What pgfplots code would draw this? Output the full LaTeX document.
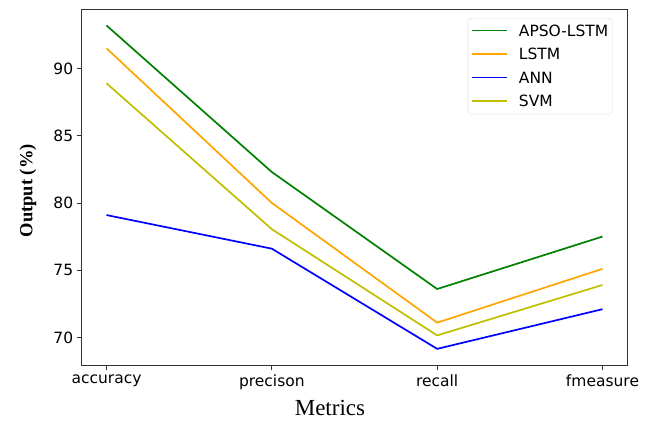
\documentclass[border=0pt]{standalone}
\usepackage{pgfplots}
\pgfplotsset{compat=1.18}
\usepackage{fontspec}
\setmainfont{DejaVu Sans}
\newfontfamily\timesfont{Liberation Serif}
\definecolor{colAPSO}{HTML}{008000}
\definecolor{colLSTM}{HTML}{FFA500}
\definecolor{colANN}{HTML}{0000FF}
\definecolor{colSVM}{HTML}{BFBF00}
\newcommand{\legline}[1]{\textcolor{#1}{\rule[\dimexpr0.36em-0.85pt\relax]{35pt}{1.7pt}}\hspace{12pt}}
\pgfplotstableread{
x apso lstm ann svm
0 93.2 91.5 79.1 88.9
1 82.3 80.0 76.6 78.05
2 73.6 71.1 69.15 70.15
3 77.5 75.1 72.1 73.9
}\datatable
\begin{document}
\begin{tikzpicture}
\begin{axis}[
  name=ax,
  at={(0,0)}, anchor=south west,
  scale only axis,
  width=545.6pt, height=355.7pt,
  xmin=-0.15, xmax=3.15,
  ymin=67.95, ymax=94.4,
  xtick={0,1,2,3},
  xticklabels={accuracy,precison,recall,fmeasure},
  ytick={70,75,80,85,90},
  tick label style={font=\fontsize{15.5}{18}\selectfont},
  /pgf/number format/assume math mode=true,
  tick align=outside,
  tickwidth=5pt,
  xtick pos=bottom, ytick pos=left,
  axis line style={line width=1pt, black!80},
  major tick style={line width=0.9pt, black!80},
  xticklabel style={yshift=-1pt},
  xlabel={Metrics},
  xlabel style={font=\timesfont\fontsize{23}{26}\selectfont, at={(axis description cs:0.455,-0.121)}, anchor=center},
  ylabel={\textbf{Output (\%)}},
  ylabel style={font=\timesfont\fontsize{18.5}{22}\selectfont, at={(axis description cs:-0.0984,0.49)}, anchor=center},
  legend style={at={(axis description cs:0.7075,0.9747)}, anchor=north west,
    draw=black!15, rounded corners=3pt, fill=white,
    font=\fontsize{15.5}{18}\selectfont, inner xsep=3pt, inner ysep=5pt,
    row sep=8.6pt, column sep=0pt, nodes={inner sep=1pt}},
  legend cell align=left,
]
\addplot[color=colAPSO, line width=1.7pt, forget plot] table[x=x,y=apso] {\datatable};
\addplot[color=colLSTM, line width=1.7pt, forget plot] table[x=x,y=lstm] {\datatable};
\addplot[color=colANN, line width=1.7pt, forget plot] table[x=x,y=ann] {\datatable};
\addplot[color=colSVM, line width=1.7pt, forget plot] table[x=x,y=svm] {\datatable};
\addlegendimage{empty legend}
\addlegendentry{\legline{colAPSO}APSO-LSTM}
\addlegendimage{empty legend}
\addlegendentry{\legline{colLSTM}LSTM}
\addlegendimage{empty legend}
\addlegendentry{\legline{colANN}ANN}
\addlegendimage{empty legend}
\addlegendentry{\legline{colSVM}SVM}
\end{axis}
\pgfresetboundingbox
\path (-81.7pt,-56pt) rectangle (569.3pt,365pt);
\end{tikzpicture}
\end{document}
